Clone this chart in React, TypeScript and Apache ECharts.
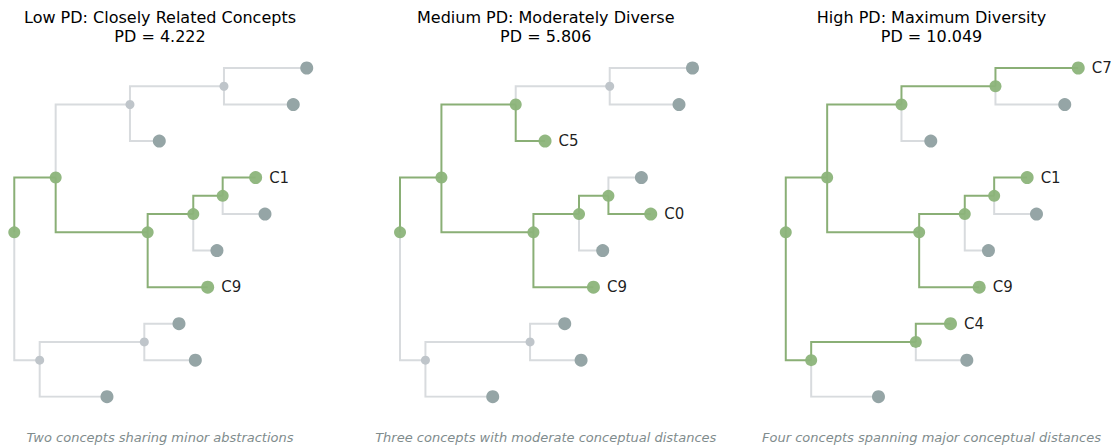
import React, { useEffect, useRef } from "react";
import * as echarts from "echarts";

// Tree structure (shared by all panels)
const nodeIds = ["R", "A", "B", "D", "E", "F", "G", "H", "I", "C7", "C3", "C5", "C1", "C0", "C2", "C9", "C4", "C6", "C8"];
const nodeParents = [null, "R", "R", "A", "A", "D", "E", "G", "B", "F", "F", "D", "H", "H", "G", "E", "I", "I", "B"];
const branchLengths = [0, 0.58, 0.356, 1.041, 1.289, 1.317, 0.639, 0.412, 1.466, 1.16, 0.971, 0.411, 0.462, 0.593, 0.332, 0.841, 0.486, 0.715, 0.943];
const leafOrder = ["C7", "C3", "C5", "C1", "C0", "C2", "C9", "C4", "C6", "C8"];

// Panels
const panelTitles = ["Low PD: Closely Related Concepts", "Medium PD: Moderately Diverse", "High PD: Maximum Diversity"];
const pdValues = ["4.222", "5.806", "10.049"];
const selectedLeaves = [
  ["C1", "C9"],
  ["C5", "C0", "C9"],
  ["C7", "C1", "C9", "C4"],
];
const captions = [
  "Two concepts sharing minor abstractions",
  "Three concepts with moderate conceptual distances",
  "Four concepts spanning major conceptual distances",
];

const GREEN = "#8cb47a";
const GREEN_LINE = "#8aaf76";
const GRAY_LINE = "#d8dbde";
const GRAY_LEAF = "#95a5a6";
const GRAY_INNER = "#bfc5ca";

const PANEL_STEP = 385.75;
const SCALE = 71.37;
const XMIN = -0.2;
const XMAX = 4.6;

function buildLayout() {
  const idx: Record<string, number> = {};
  nodeIds.forEach((n, i) => (idx[n] = i));
  const depth: Record<string, number> = {};
  const getDepth = (n: string): number => {
    if (depth[n] !== undefined) return depth[n];
    const p = nodeParents[idx[n]];
    const d = p === null ? 0 : getDepth(p) + branchLengths[idx[n]];
    depth[n] = d;
    return d;
  };
  nodeIds.forEach((n) => getDepth(n));
  const children: Record<string, string[]> = {};
  nodeIds.forEach((n) => (children[n] = []));
  nodeIds.forEach((n, i) => {
    const p = nodeParents[i];
    if (p) children[p].push(n);
  });
  const leavesOf = (n: string): string[] =>
    children[n].length === 0 ? [n] : children[n].flatMap((c) => leavesOf(c));
  const yPos: Record<string, number> = {};
  nodeIds.forEach((n) => {
    const ls = leavesOf(n);
    yPos[n] = ls.reduce((s, l) => s + leafOrder.indexOf(l), 0) / ls.length;
  });
  return { idx, depth, children, yPos };
}

export default function App() {
  const ref = useRef<HTMLDivElement>(null);
  useEffect(() => {
    if (!ref.current) return;
    const chart = echarts.init(ref.current, undefined, { renderer: "svg" });
    const { idx, depth, children, yPos } = buildLayout();

    const grids: any[] = [];
    const xAxes: any[] = [];
    const yAxes: any[] = [];
    const series: any[] = [];
    const graphics: any[] = [];

    panelTitles.forEach((title, p) => {
      const off = p * PANEL_STEP;
      grids.push({ left: off, top: 68, width: (XMAX - XMIN) * SCALE, height: 328.7 });
      xAxes.push({ type: "value", gridIndex: p, min: XMIN, max: XMAX, show: false });
      yAxes.push({ type: "value", gridIndex: p, min: 0, max: 9, inverse: true, show: false });

      // highlighted set: selected leaves and all their ancestors
      const hl = new Set<string>();
      selectedLeaves[p].forEach((l) => {
        let cur: string | null = l;
        while (cur) {
          hl.add(cur);
          cur = nodeParents[idx[cur]];
        }
      });

      const grayEdges: any[] = [];
      const greenEdges: any[] = [];
      nodeIds.forEach((n, i) => {
        const par = nodeParents[i];
        if (!par) return;
        const coords = [
          [depth[par], yPos[par]],
          [depth[par], yPos[n]],
          [depth[n], yPos[n]],
        ];
        (hl.has(n) ? greenEdges : grayEdges).push({ coords });
      });

      series.push({
        type: "lines",
        coordinateSystem: "cartesian2d",
        xAxisIndex: p,
        yAxisIndex: p,
        polyline: true,
        silent: true,
        z: 1,
        lineStyle: { color: GRAY_LINE, width: 2, opacity: 1 },
        data: grayEdges,
      });
      series.push({
        type: "lines",
        coordinateSystem: "cartesian2d",
        xAxisIndex: p,
        yAxisIndex: p,
        polyline: true,
        silent: true,
        z: 2,
        lineStyle: { color: GREEN_LINE, width: 2, opacity: 1 },
        data: greenEdges,
      });

      const nodes = nodeIds.map((n) => {
        const isLeaf = children[n].length === 0;
        const on = hl.has(n);
        const selectedLeaf = isLeaf && on;
        return {
          value: [depth[n], yPos[n]],
          symbolSize: isLeaf ? 13 : on ? 12 : 9,
          itemStyle: {
            color: on ? GREEN : isLeaf ? GRAY_LEAF : GRAY_INNER,
            opacity: on ? 0.95 : 1,
          },
          label: {
            show: selectedLeaf,
            formatter: n,
            position: "right",
            distance: 7,
            color: "#111",
            fontSize: 15,
            fontFamily: "DejaVu Sans",
          },
        };
      });
      series.push({
        type: "scatter",
        xAxisIndex: p,
        yAxisIndex: p,
        silent: true,
        clip: false,
        z: 3,
        data: nodes,
      });

      const cx = 160 + off;
      graphics.push({
        type: "text",
        x: cx,
        y: 17.5,
        style: { text: title, font: "16px 'DejaVu Sans'", fill: "#000", textAlign: "center", textVerticalAlign: "middle" },
      });
      graphics.push({
        type: "text",
        x: cx,
        y: 36.5,
        style: { text: "PD = " + pdValues[p], font: "16px 'DejaVu Sans'", fill: "#000", textAlign: "center", textVerticalAlign: "middle" },
      });
      graphics.push({
        type: "text",
        x: cx,
        y: 437.5,
        style: { text: captions[p], font: "italic 13px 'DejaVu Sans'", fill: "#7f8c8d", textAlign: "center", textVerticalAlign: "middle" },
      });
    });

    chart.setOption({
      animation: false,
      backgroundColor: "#ffffff",
      grid: grids,
      xAxis: xAxes,
      yAxis: yAxes,
      series,
      graphic: graphics,
    });
    return () => chart.dispose();
  }, []);
  return <div ref={ref} style={{ position: "fixed", left: 0, top: 0, width: 1115, height: 448 }} />;
}
